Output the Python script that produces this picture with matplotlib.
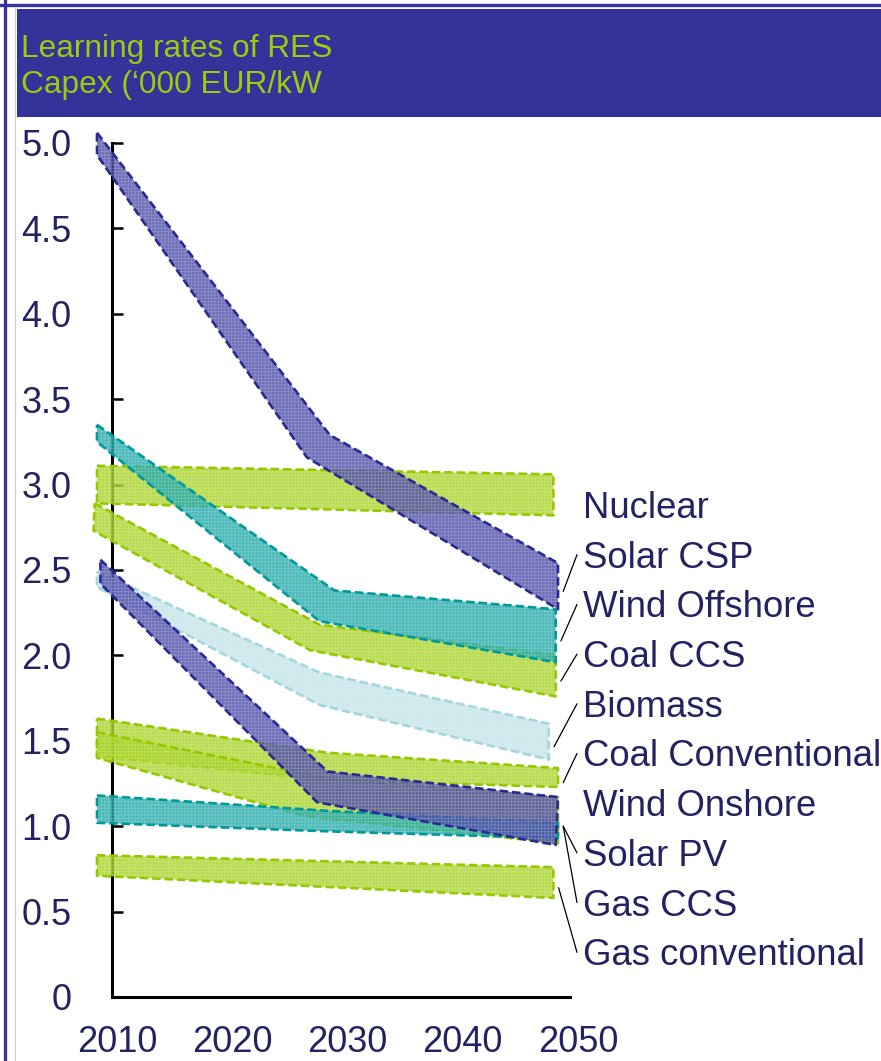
import matplotlib
matplotlib.use("Agg")
import matplotlib.pyplot as plt
from matplotlib.patches import Polygon, Rectangle, ConnectionPatch
from matplotlib.lines import Line2D
import matplotlib.transforms as mtransforms
import numpy as np

# ---------------------------------------------------------------- data
# Capex ranges ('000 EUR/kW): upper and lower edge of each band
TECHS = ["Nuclear", "Solar CSP", "Wind Offshore", "Coal CCS", "Biomass",
         "Coal Conventional", "Wind Onshore", "Solar PV", "Gas CCS",
         "Gas conventional"]

nuclear_hi_years, nuclear_hi = [2010, 2049.6], [3.11, 3.06]
nuclear_lo_years, nuclear_lo = [2010, 2049.6], [2.89, 2.82]

solar_csp_hi_years, solar_csp_hi = [2010, 2030.2, 2050], [5.06, 3.29, 2.54]
solar_csp_lo_years, solar_csp_lo = [2010, 2028.2, 2050], [4.93, 3.16, 2.27]

wind_off_hi_years, wind_off_hi = [2010, 2030.6, 2049.8], [3.35, 2.38, 2.27]
wind_off_lo_years, wind_off_lo = [2010, 2029.3, 2049.8], [3.25, 2.20, 1.96]

coal_ccs_hi_years, coal_ccs_hi = [2009.8, 2029.3, 2049.8], [2.89, 2.18, 2.00]
coal_ccs_lo_years, coal_ccs_lo = [2009.7, 2028.5, 2049.8], [2.73, 2.03, 1.76]

biomass_hi_years, biomass_hi = [2010, 2029.3, 2049.2], [2.49, 1.90, 1.60]
biomass_lo_years, biomass_lo = [2010, 2029.3, 2049.2], [2.40, 1.71, 1.39]

coal_conv_hi_years, coal_conv_hi = [2010, 2030, 2050], [1.63, 1.43, 1.34]
coal_conv_lo_years, coal_conv_lo = [2010, 2030, 2050], [1.41, 1.27, 1.23]

wind_on_hi_years, wind_on_hi = [2010, 2030, 2050], [1.18, 1.09, 1.02]
wind_on_lo_years, wind_on_lo = [2010, 2030, 2050], [1.02, 0.97, 0.93]

solar_pv_hi_years, solar_pv_hi = [2010.3, 2030, 2050], [2.56, 1.32, 1.17]
solar_pv_lo_years, solar_pv_lo = [2010.3, 2029.1, 2049.8], [2.42, 1.14, 0.89]

gas_ccs_hi_years, gas_ccs_hi = [2010, 2030, 2050], [1.55, 1.28, 1.17]
gas_ccs_lo_years, gas_ccs_lo = [2010, 2028, 2050], [1.40, 1.06, 0.90]

gas_conv_hi_years, gas_conv_hi = [2010, 2049.6], [0.83, 0.76]
gas_conv_lo_years, gas_conv_lo = [2010, 2049.6], [0.71, 0.58]

X_TICKS = [2010, 2020, 2030, 2040, 2050]
X_TICK_LABELS = ["2010", "2020", "2030", "2040", "2050"]
Y_TICKS = [0, 0.5, 1.0, 1.5, 2.0, 2.5, 3.0, 3.5, 4.0, 4.5, 5.0]
Y_TICK_LABELS = ["0", "0.5", "1.0", "1.5", "2.0", "2.5", "3.0", "3.5",
                 "4.0", "4.5", "5.0"]

TITLE_LINES = ["Learning rates of RES", "Capex (\u2018000 EUR/kW"]

# ---------------------------------------------------------------- styles
NAVY = "#333399"
TEXT = "#232363"
STYLES = {
    "green": dict(face="#a6d320", edge="#96c800"),
    "navy":  dict(face="#4a4aa8", edge="#2a2a92"),
    "teal":  dict(face="#1ea8a8", edge="#009999"),
    "pale":  dict(face="#bfe3e8", edge="#a2d7de"),
}

bands = {
    "Nuclear": ((nuclear_hi_years, nuclear_hi), (nuclear_lo_years, nuclear_lo), "green"),
    "Coal CCS": ((coal_ccs_hi_years, coal_ccs_hi), (coal_ccs_lo_years, coal_ccs_lo), "green"),
    "Coal Conventional": ((coal_conv_hi_years, coal_conv_hi), (coal_conv_lo_years, coal_conv_lo), "green"),
    "Gas CCS": ((gas_ccs_hi_years, gas_ccs_hi), (gas_ccs_lo_years, gas_ccs_lo), "green"),
    "Gas conventional": ((gas_conv_hi_years, gas_conv_hi), (gas_conv_lo_years, gas_conv_lo), "green"),
    "Biomass": ((biomass_hi_years, biomass_hi), (biomass_lo_years, biomass_lo), "pale"),
    "Wind Onshore": ((wind_on_hi_years, wind_on_hi), (wind_on_lo_years, wind_on_lo), "teal"),
    "Wind Offshore": ((wind_off_hi_years, wind_off_hi), (wind_off_lo_years, wind_off_lo), "teal"),
    "Solar CSP": ((solar_csp_hi_years, solar_csp_hi), (solar_csp_lo_years, solar_csp_lo), "navy"),
    "Solar PV": ((solar_pv_hi_years, solar_pv_hi), (solar_pv_lo_years, solar_pv_lo), "navy"),
}
LEADER = {"Solar CSP", "Wind Offshore", "Coal CCS", "Biomass",
          "Coal Conventional", "Solar PV", "Gas CCS", "Gas conventional"}
# band whose end a label's leader line points to
LEADER_TARGET = {"Solar PV": "Solar PV", "Gas CCS": "Solar PV"}

# ---------------------------------------------------------------- figure
W, H, DPI = 881, 1061, 100
plt.rcParams['font.family'] = ['Liberation Sans', 'DejaVu Sans']
plt.rcParams['hatch.linewidth'] = 0.6

fig = plt.figure(figsize=(W / DPI, H / DPI), dpi=DPI)
fig.patch.set_facecolor("white")


def fx(x):
    return x / W


def fy(y):
    return 1 - y / H


# outer frame and title banner
fig.add_artist(Line2D([0, 1], [fy(4.5), fy(4.5)], transform=fig.transFigure,
                      color=NAVY, lw=2.4))
fig.add_artist(Line2D([fx(4.5), fx(4.5)], [0, 1], transform=fig.transFigure,
                      color=NAVY, lw=2.4))
fig.add_artist(Line2D([fx(15), fx(15)], [0, fy(8)], transform=fig.transFigure,
                      color="#d0d0dc", lw=0.8))
fig.add_artist(Rectangle((fx(17), fy(117)), 1 - fx(17), (117 - 9) / H,
                         transform=fig.transFigure, facecolor=NAVY,
                         edgecolor="none"))
for i, line in enumerate(TITLE_LINES):
    fig.text(fx(21), fy(57 + 36.5 * i), line, color="#9fcb0e", fontsize=22.8,
             ha="left", va="baseline")

# axes: 2010 sits at the left edge, the y axis line a little to the right
X0, X1 = 2010, 2051.04
ax = fig.add_axes([fx(97), fy(997), (570 - 97) / W, (997 - 125.9) / H])
ax.set_xlim(X0, X1)
ax.set_ylim(0, 5.1)
ax.set_facecolor("none")

draw_order = ["Nuclear", "Coal CCS", "Coal Conventional", "Gas CCS",
              "Gas conventional", "Biomass", "Wind Onshore", "Wind Offshore",
              "Solar CSP", "Solar PV"]
for z, name in enumerate(draw_order):
    (hx, hy), (lx, ly), style = bands[name]
    st = STYLES[style]
    pts = list(zip(hx, hy)) + list(zip(lx[::-1], ly[::-1]))
    zo = 2 + z * 0.1
    ax.add_patch(Polygon(pts, closed=True, facecolor=st["face"],
                         edgecolor="none", alpha=0.8, zorder=zo,
                         clip_on=False))
    ax.add_patch(Polygon(pts, closed=True, facecolor="none",
                         edgecolor=(1, 1, 1, 0.22), lw=0, hatch="+++++",
                         zorder=zo + 0.01, clip_on=False))
    ax.add_patch(Polygon(pts, closed=True, facecolor="none",
                         edgecolor=st["edge"], lw=1.9, ls=(0, (3.2, 1.5)),
                         zorder=zo + 0.02, clip_on=False, joinstyle="round"))

# axis lines and ticks
for s in ("top", "right"):
    ax.spines[s].set_visible(False)
Y_AXIS_X = 2011.3
ax.spines["left"].set_position(("data", Y_AXIS_X))
ax.spines["left"].set_bounds(0, 5.0)
ax.spines["bottom"].set_bounds(Y_AXIS_X, X1)
for s in ("left", "bottom"):
    ax.spines[s].set_linewidth(2.2)
    ax.spines[s].set_color("black")
    ax.spines[s].set_zorder(1)

ax.set_yticks(Y_TICKS)
ax.set_yticklabels(Y_TICK_LABELS)
ax.set_xticks(X_TICKS)
ax.set_xticklabels(X_TICK_LABELS)
ax.tick_params(axis="y", direction="in", length=8, width=1.8, pad=29,
               labelsize=26, labelcolor=TEXT, color="black")
ax.tick_params(axis="x", length=0, pad=20, labelsize=26, labelcolor=TEXT)
shift = mtransforms.ScaledTranslation(0.20, 0, fig.dpi_scale_trans)
for lbl in ax.get_xticklabels():
    lbl.set_transform(lbl.get_transform() + shift)

# labels at the right with leader lines to the band ends
LABEL_X = 583
for i, name in enumerate(TECHS):
    base = 518 + 49.7 * i
    fig.text(fx(LABEL_X), fy(base), name, color=TEXT, fontsize=26.3,
             ha="left", va="baseline")
    if name in LEADER:
        tgt = LEADER_TARGET.get(name, name)
        (hx, hy), (lx, ly), _ = bands[tgt]
        mid = (hy[-1] + ly[-1]) / 2 - 0.03
        xend = max(hx[-1], lx[-1]) + 0.45
        con = ConnectionPatch(xyA=(xend, mid), coordsA=ax.transData,
                              xyB=(577, H - (base - 13)),
                              coordsB="figure pixels", color="black",
                              lw=0.9)
        fig.add_artist(con)

fig.savefig("out.png", dpi=DPI, facecolor="white")
